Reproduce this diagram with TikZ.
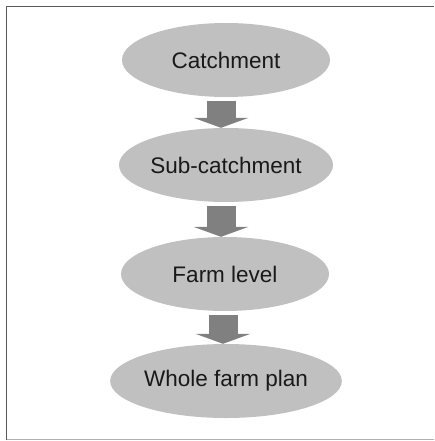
\documentclass[tikz,border=0pt]{standalone}
\usepackage{fontspec}
\setmainfont{Liberation Sans}
\usepackage{tikz}
\usetikzlibrary{
    arrows.meta,
    shapes.geometric,
    positioning
}
\definecolor{ellgray}{HTML}{C0C0C0}
\definecolor{arrgray}{HTML}{808080}
\definecolor{frmdark}{HTML}{5A5A5A}
\definecolor{frmlight}{HTML}{B0B0B0}
\tikzset{lvl/.style={ellipse, fill=ellgray, minimum width=208pt, minimum height=74pt, inner sep=0pt, text=black!90, font=\fontsize{22.5}{26}\selectfont}}
\tikzset{dnar/.style={draw=arrgray, line width=29pt, -{Triangle[width=55pt, length=10pt, line width=0pt]}, shorten <=4pt}}

\begin{document}
\begin{tikzpicture}[x=1pt, y=-1pt]
    \useasboundingbox (0, 0) rectangle (434, 441);
    \draw[frmdark, line width=1.5pt] (6.5, 440) -- (6.5, 6.5) -- (434, 6.5);
    \draw[frmlight, line width=1.2pt] (6.5, 439.5) -- (434, 439.5);

    \node[lvl] (catch) at (226, 60) {Catchment};
    \node[lvl] (subc) at (226, 165) {Sub-catchment};
    \node[lvl] (farm) at (225, 274) {Farm level};
    \node[lvl] (plan) at (226, 381) {Whole farm plan};

    \draw[dnar] ([xshift=-5pt]catch.south) -- ([xshift=-5pt]catch.south |- subc.north);
    \draw[dnar] ([xshift=-5pt]subc.south) -- ([xshift=-5pt]subc.south |- farm.north);
    \draw[dnar] ([xshift=-2pt]farm.south) -- ([xshift=-2pt]farm.south |- plan.north);
\end{tikzpicture}
\end{document}
